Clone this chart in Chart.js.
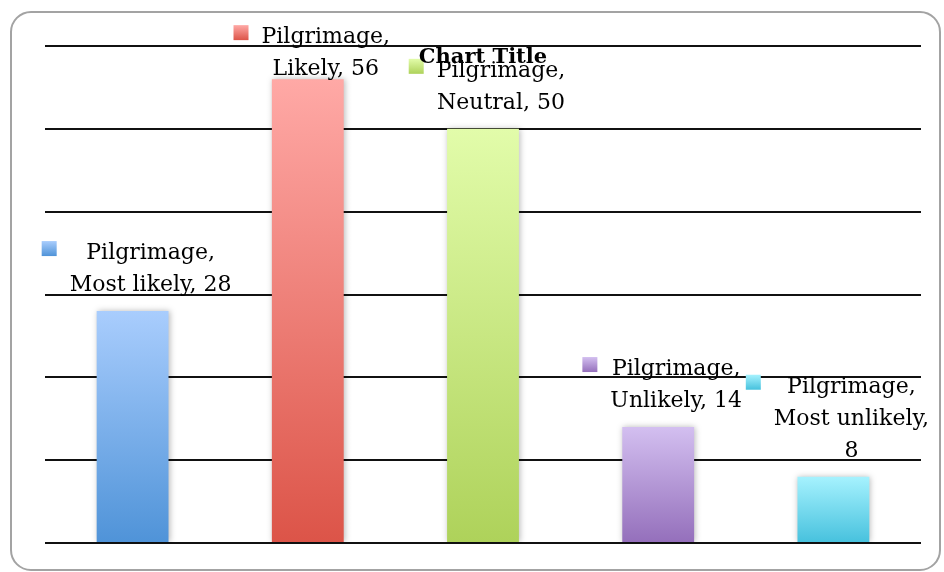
<!DOCTYPE html>
<html>
<head>
<meta charset="utf-8">
<script src="https://cdn.jsdelivr.net/npm/chart.js@4/dist/chart.umd.min.js"></script>
<style>
html, body { margin: 0; padding: 0; background: #fff; }
#wrap { width: 944px; height: 572px; position: relative; }
</style>
</head>
<body>
<div id="wrap"><canvas id="bars"></canvas></div>
<script>
var seriesName = "Pilgrimage"
var categories = ["Most likely", "Likely", "Neutral", "Unlikely", "Most unlikely"]
var values = [28, 56, 50, 14, 8]
var yMin = 0
var yMax = 60
var yStep = 10
var chartTitle = "Chart Title"

var topColors = ["#a9cdfd", "#ffa9a6", "#e2fcaa", "#d3bff0", "#a6f2fe"]
var bottomColors = ["#4f93d8", "#dc5448", "#aed25a", "#946fbb", "#46c1dd"]

// Excel wrapped the last label onto three lines
var labelLines = categories.map(function(c, i) {
  if (i == 4) return [seriesName + ",", c + ",", String(values[i])]
  return [seriesName + ",", c + ", " + values[i]]
})
// the "Likely" label got pushed down to stay inside the plot
var labelShiftY = [0, 16, 0, 0, 0]

var labelFont = "22px 'DejaVu Serif'"
var lineHeight = 32

function gradientFor(ctx, i, top, bottom) {
  var g = ctx.createLinearGradient(0, top, 0, bottom)
  g.addColorStop(0, topColors[i])
  g.addColorStop(1, bottomColors[i])
  return g
}

function barColor(context) {
  var chart = context.chart
  var i = context.dataIndex
  if (!chart.chartArea || !chart.scales.y || i === undefined) return topColors[i || 0]
  var y = chart.scales.y
  return gradientFor(chart.ctx, i, y.getPixelForValue(values[i]), y.getPixelForValue(0))
}

var frame = {
  id: 'frame',
  beforeDraw: function(chart) {
    var ctx = chart.ctx
    ctx.save()
    ctx.fillStyle = '#fff'
    ctx.fillRect(0, 0, chart.width, chart.height)
    ctx.strokeStyle = '#a3a3a3'
    ctx.lineWidth = 2
    ctx.beginPath()
    ctx.roundRect(11, 12, chart.width - 15, chart.height - 14, 20)
    ctx.stroke()
    ctx.restore()
  }
}

var labelsAndShadow = {
  id: 'labelsAndShadow',
  beforeDatasetsDraw: function(chart) {
    var ctx = chart.ctx
    ctx.save()
    ctx.shadowColor = 'rgba(0,0,0,0.28)'
    ctx.shadowBlur = 6
    ctx.shadowOffsetX = 1
  },
  afterDatasetsDraw: function(chart) {
    var ctx = chart.ctx
    ctx.restore()
    ctx.save()
    ctx.font = labelFont
    ctx.fillStyle = '#000'
    ctx.textAlign = 'center'
    ctx.textBaseline = 'alphabetic'
    var bars = chart.getDatasetMeta(0).data
    bars.forEach(function(bar, i) {
      var lines = labelLines[i]
      var cx = bar.x + 18
      var lastBase = bar.y - 20 + labelShiftY[i]
      var firstBase = lastBase - (lines.length - 1) * lineHeight
      var widest = 0
      lines.forEach(function(t, k) {
        widest = Math.max(widest, ctx.measureText(t).width)
        ctx.fillText(t, cx, firstBase + k * lineHeight)
      })
      var keyX = cx - widest / 2 - 28
      var keyY = firstBase - 18
      ctx.fillStyle = gradientFor(ctx, i, keyY, keyY + 15)
      ctx.fillRect(keyX, keyY, 15, 15)
      ctx.fillStyle = '#000'
    })
    ctx.restore()
  },
  afterDraw: function(chart) {
    var ctx = chart.ctx
    var area = chart.chartArea
    ctx.save()
    ctx.font = "bold 21px 'DejaVu Serif'"
    ctx.fillStyle = '#000'
    ctx.textAlign = 'center'
    ctx.fillText(chartTitle, (area.left + area.right) / 2, 63)
    ctx.restore()
  }
}

var ctx = document.getElementById("bars").getContext('2d')
var chart = new Chart(ctx, {
  type: 'bar',
  data: {
    labels: categories,
    datasets: [{
      label: seriesName,
      data: values,
      backgroundColor: barColor,
      borderWidth: 0,
      categoryPercentage: 1,
      barPercentage: 0.41
    }]
  },
  options: {
    responsive: true,
    maintainAspectRatio: false,
    animation: false,
    layout: { padding: { left: 45, right: 23, top: 46, bottom: 29 } },
    plugins: {
      legend: { display: false },
      title: { display: false },
      tooltip: { enabled: false }
    },
    scales: {
      x: { display: false },
      y: {
        min: yMin,
        max: yMax,
        ticks: { display: false, stepSize: yStep },
        grid: { color: '#111', lineWidth: 2, drawTicks: false },
        border: { display: false }
      }
    }
  },
  plugins: [frame, labelsAndShadow]
})
</script>
</body>
</html>
